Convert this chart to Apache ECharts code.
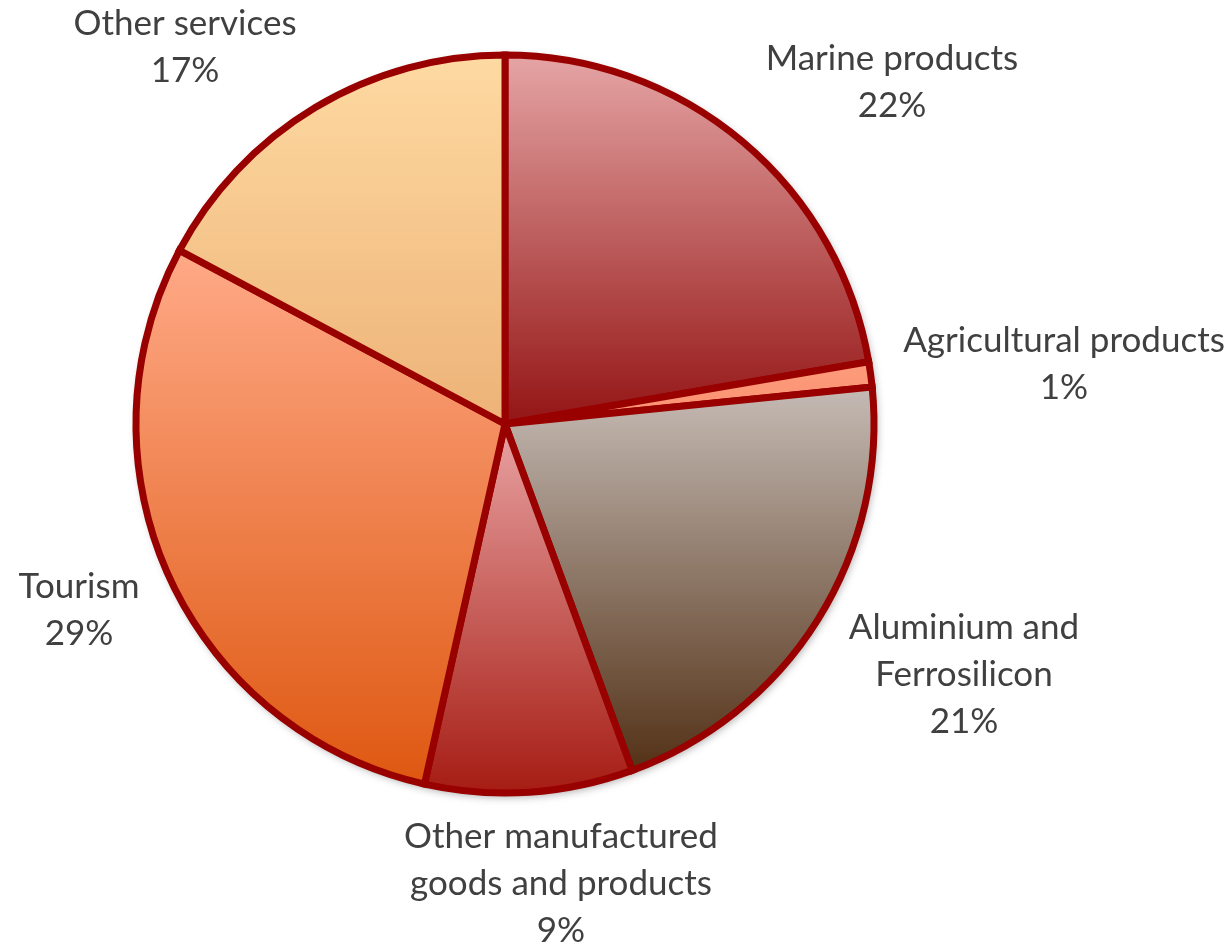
<!DOCTYPE html>
<html>
<head>
<meta charset="utf-8">
<script src="https://cdn.jsdelivr.net/npm/echarts@6/dist/echarts.min.js"></script>
<style>
html,body{margin:0;padding:0;background:#fff;}
#chart{width:1231px;height:950px;}
</style>
</head>
<body>
<div id="chart"></div>
<script>
// Data
var categories = ['Marine products', 'Agricultural products', 'Aluminium and Ferrosilicon', 'Other manufactured goods and products', 'Tourism', 'Other services'];
var labelLines = ['Marine products', 'Agricultural products', 'Aluminium and\nFerrosilicon', 'Other manufactured\ngoods and products', 'Tourism', 'Other services'];
var shares = [22.3, 1.1, 21.0, 9.1, 29.3, 17.2];

// Styles
var gradients = [
  ['#E6A6A6', '#931313'],
  ['#FC9C7C', '#FA9070'],
  ['#C6BCB6', '#523015'],
  ['#E9A4A4', '#A51B12'],
  ['#FFAA88', '#DE5710'],
  ['#FEDAA2', '#EDB277']
];
var labelPos = [[892, 82], [1064, 364], [964, 675], [561, 884], [79, 610], [185, 47]];

var chart = echarts.init(document.getElementById('chart'));
var data = categories.map(function (c, i) {
  return {
    name: c,
    value: shares[i],
    itemStyle: {
      color: new echarts.graphic.LinearGradient(0, 0, 0, 1, [
        {offset: 0, color: gradients[i][0]},
        {offset: 1, color: gradients[i][1]}
      ])
    }
  };
});

chart.setOption({
  backgroundColor: '#ffffff',
  animation: false,
  series: [
    {
      type: 'pie',
      silent: true,
      center: [505, 424],
      radius: [0, 370],
      z: 1,
      label: {show: false},
      labelLine: {show: false},
      data: [{value: 1, itemStyle: {color: '#990000', shadowBlur: 8, shadowOffsetX: 2, shadowOffsetY: 3, shadowColor: 'rgba(0,0,0,0.35)'}}]
    },
    {
      type: 'pie',
      center: [505, 424],
      radius: [0, 369],
      startAngle: 90,
      clockwise: true,
      z: 2,
      itemStyle: {borderColor: '#990000', borderWidth: 7, borderJoin: 'miter'},
      label: {
        show: true,
        position: 'outside',
        color: '#404040',
        fontFamily: 'Lato, "Open Sans", sans-serif',
        fontSize: 35,
        lineHeight: 47,
        align: 'center',
        overflow: 'none',
        formatter: function (p) {
          return labelLines[p.dataIndex] + '\n' + Math.round(p.value) + '%';
        }
      },
      labelLine: {show: false},
      labelLayout: function (p) {
        var pos = labelPos[p.dataIndex];
        return {x: pos[0], y: pos[1], align: 'center', verticalAlign: 'middle'};
      },
      data: data
    }
  ]
});
</script>
</body>
</html>
